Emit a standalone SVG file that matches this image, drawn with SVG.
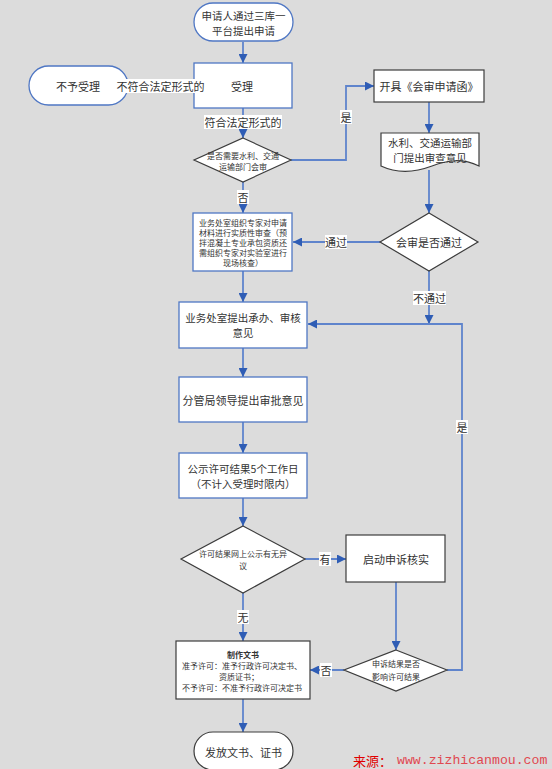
<svg xmlns="http://www.w3.org/2000/svg" width="552" height="769" viewBox="0 0 552 769">
<defs>
<marker id="ah" viewBox="0 0 10 10" refX="10" refY="5" markerWidth="9" markerHeight="9" markerUnits="userSpaceOnUse" orient="auto">
<path d="M0,0 L10,5 L0,10 z" fill="#2f5db5"/>
</marker>
</defs>
<style>
.bg{fill:#dcdcdc}
.nb{fill:#fff;stroke:#4f77c4;stroke-width:1.3}
.nd{fill:#fff;stroke:#3c3c3c;stroke-width:1.2}
text{font-family:"Noto Sans CJK SC","Liberation Serif",serif;fill:#333;text-anchor:middle;dominant-baseline:central}
.t{font-size:11px}
.t2{font-size:10.5px}
.s{font-size:8px}
.c{fill:none;stroke:#5f84cc;stroke-width:1.8;marker-end:url(#ah)}
.lb{fill:#fff}
</style>
<rect class="bg" x="0" y="0" width="552" height="769"/>

<g id="connectors">
<path class="c" d="M243,42 V63"/>
<path class="c" d="M194,86 H128"/>
<path class="c" d="M243,108 V138"/>
<path class="c" d="M291,160 H346 V86 H374"/>
<path class="c" d="M429,102 V133"/>
<path class="c" d="M429,170 V213"/>
<path class="c" d="M380,242 H293"/>
<path class="c" d="M243,182 V213"/>
<path class="c" d="M243,271 V302"/>
<path class="c" d="M429,271 V324"/>
<path class="c" d="M447,670 H462 V324 H308"/>
<path class="c" d="M243,348 V377"/>
<path class="c" d="M243,422 V453"/>
<path class="c" d="M243,498 V526"/>
<path class="c" d="M305,559 H346"/>
<path class="c" d="M396,582 V650"/>
<path class="c" d="M243,593 V641"/>
<path class="c" d="M344,670 H310"/>
<path class="c" d="M243,699 V732"/>
</g>

<g id="start">
<rect class="nb" x="194" y="3" width="99" height="38" rx="19"/>
<text class="t2" x="243.5" y="15">申请人通过三库一</text>
<text class="t2" x="243.5" y="30.5">平台提出申请</text>
</g>

<g id="shouli">
<rect class="nb" x="194" y="63" width="98" height="45"/>
<text class="t" x="242" y="86">受理</text>
</g>

<g id="buyushouli">
<rect class="nb" x="29" y="66" width="99" height="39" rx="19.5"/>
<text class="t" x="78" y="86">不予受理</text>
</g>

<g id="d1">
<polygon class="nd" points="243,138 291,160 243,182 194,160"/>
<text class="s" x="243" y="155">是否需要水利、交通</text>
<text class="s" x="243" y="166">运输部门会审</text>
</g>

<g id="kaiju">
<rect class="nd" x="374" y="70" width="110" height="32"/>
<text class="t" x="429" y="86">开具《会审申请函》</text>
</g>

<g id="doc">
<path class="nd" d="M381,133 H479 V166 C462,158 448,160 432,166 C416,172 398,174 381,166 Z"/>
<text class="t2" x="430" y="142">水利、交通运输部</text>
<text class="t2" x="430" y="157.5">门提出审查意见</text>
</g>

<g id="d2">
<polygon class="nd" points="429,213 478,242 429,271 380,242"/>
<text class="t" x="429" y="242">会审是否通过</text>
</g>

<g id="zhuanjia">
<rect class="nb" x="193" y="213" width="99" height="58"/>
<text class="s" x="243" y="222">业务处室组织专家对申请</text>
<text class="s" x="243" y="232">材料进行实质性审查（预</text>
<text class="s" x="243" y="242">拌混凝土专业承包资质还</text>
<text class="s" x="243" y="252">需组织专家对实验室进行</text>
<text class="s" x="243" y="262">现场核查）</text>
</g>

<g id="chengban">
<rect class="nb" x="179" y="302" width="128" height="46"/>
<text class="t2" x="243" y="317">业务处室提出承办、审核</text>
<text class="t2" x="243" y="332.5">意见</text>
</g>

<g id="shenpi">
<rect class="nb" x="179" y="377" width="128" height="45"/>
<text class="t" x="243" y="400">分管局领导提出审批意见</text>
</g>

<g id="gongshi">
<rect class="nb" x="179" y="453" width="128" height="45"/>
<text class="t2" x="243" y="468">公示许可结果5个工作日</text>
<text class="t2" x="243" y="483.5">（不计入受理时限内）</text>
</g>

<g id="d3">
<polygon class="nd" points="243,526 305,559 243,593 181,559"/>
<text class="s" x="243" y="553">许可结果网上公示有无异</text>
<text class="s" x="243" y="565">议</text>
</g>

<g id="shensu">
<rect class="nd" x="346" y="535" width="99" height="47"/>
<text class="t" x="396" y="559">启动申诉核实</text>
</g>

<g id="d4">
<polygon class="nd" points="396,650 447,670 396,691 344,670"/>
<text class="s" x="396" y="663">申诉结果是否</text>
<text class="s" x="396" y="676">影响许可结果</text>
</g>

<g id="wenshu">
<rect class="nd" x="176" y="641" width="134" height="58"/>
<text class="s" x="243" y="654" font-weight="bold">制作文书</text>
<text class="s" x="242" y="665">准予许可：准予行政许可决定书、</text>
<text class="s" x="239" y="676">资质证书；</text>
<text class="s" x="242" y="687">不予许可：不准予行政许可决定书</text>
</g>

<g id="fafang">
<rect class="nd" x="194" y="732" width="99" height="38" rx="19"/>
<text class="t" x="243.5" y="752">发放文书、证书</text>
</g>

<g id="labels">
<rect class="lb" x="117" y="79" width="87" height="14"/>
<text class="t" x="160.5" y="86">不符合法定形式的</text>
<rect class="lb" x="204" y="115" width="78" height="14"/>
<text class="t" x="243" y="122">符合法定形式的</text>
<rect class="lb" x="340" y="110" width="12" height="14"/>
<text class="t" x="346" y="117">是</text>
<rect class="lb" x="237" y="190" width="12" height="14"/>
<text class="t" x="243" y="197">否</text>
<rect class="lb" x="325" y="235" width="22" height="14"/>
<text class="t" x="336" y="242">通过</text>
<rect class="lb" x="413" y="291" width="33" height="14"/>
<text class="t" x="429.5" y="298">不通过</text>
<rect class="lb" x="456" y="420" width="12" height="14"/>
<text class="t" x="462" y="427">是</text>
<rect class="lb" x="319" y="552" width="12" height="14"/>
<text class="t" x="325" y="559">有</text>
<rect class="lb" x="237" y="610" width="12" height="14"/>
<text class="t" x="243" y="617">无</text>
<rect class="lb" x="320" y="663" width="12" height="14"/>
<text class="t" x="326" y="670">否</text>
</g>

<g id="watermark">
<text x="353" y="760" style="font-size:13px;fill:#e00000;text-anchor:start">来源：</text>
<text x="397" y="760" style="font-family:'Liberation Mono',monospace;font-size:13.2px;fill:#e04850;text-anchor:start">www.zizhicanmou.com</text>
</g>
</svg>
